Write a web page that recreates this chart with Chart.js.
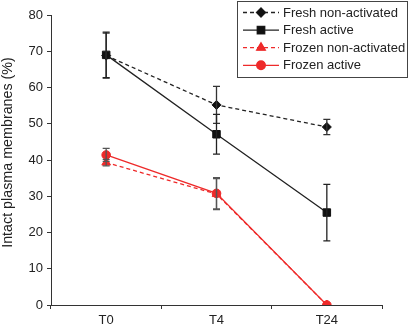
<!DOCTYPE html>
<html>
<head>
<meta charset="utf-8">
<script src="https://cdn.jsdelivr.net/npm/chart.js@4.4.0/dist/chart.umd.min.js"></script>
<style>
  html, body { margin: 0; padding: 0; background: #fff; }
  #wrap { width: 411px; height: 327px; }
</style>
</head>
<body>
<div id="wrap"><canvas id="chart" width="411" height="327"></canvas></div>
<script>
// ------------------ data ------------------
const timePoints = ['T0', 'T4', 'T24'];
const yTicks = [0, 10, 20, 30, 40, 50, 60, 70, 80];

const freshNonActivated = [68.8, 55.2, 49.1];
const freshNonActivatedErr = [6.2, 5.1, 2.1];
const freshActive = [69.0, 47.1, 25.5];
const freshActiveErr = [6.3, 5.5, 7.8];
const frozenNonActivated = [39.3, 30.6, 0];
const frozenNonActivatedErr = [0.9, 4.3, 0];
const frozenActive = [41.4, 30.8, 0];
const frozenActiveErr = [1.8, 4.3, 0];

const FONT = "'Liberation Sans', Arial, Helvetica, sans-serif";

// ------------------ error bars plugin ------------------
const errorBars = {
  id: 'errorBars',
  afterDatasetsDraw(chart) {
    const ctx = chart.ctx;
    const y = chart.scales.y;
    chart.data.datasets.forEach((ds, i) => {
      const meta = chart.getDatasetMeta(i);
      ctx.save();
      ctx.strokeStyle = ds.errColor;
      ctx.lineWidth = 1.3;
      meta.data.forEach((pt, j) => {
        const e = ds.errors[j];
        if (!e) return;
        const top = y.getPixelForValue(ds.data[j] + e);
        const bot = y.getPixelForValue(ds.data[j] - e);
        ctx.beginPath();
        ctx.moveTo(pt.x, top); ctx.lineTo(pt.x, bot);
        ctx.moveTo(pt.x - 3.5, top); ctx.lineTo(pt.x + 3.5, top);
        ctx.moveTo(pt.x - 3.5, bot); ctx.lineTo(pt.x + 3.5, bot);
        ctx.stroke();
      });
      ctx.restore();
    });
  }
};

// ------------------ boxed legend + y title ------------------
const boxLegend = {
  id: 'boxLegend',
  afterDraw(chart) {
    const ctx = chart.ctx;
    ctx.save();
    // y axis title
    ctx.translate(8, 152.5);
    ctx.rotate(-Math.PI / 2);
    ctx.fillStyle = '#222';
    ctx.font = '14.3px ' + FONT;
    ctx.textAlign = 'center';
    ctx.textBaseline = 'middle';
    ctx.fillText('Intact plasma membranes (%)', 0, 0);
    ctx.restore();

    ctx.save();
    ctx.fillStyle = '#fff';
    ctx.fillRect(237.5, 1.5, 170, 76);
    ctx.strokeStyle = '#444';
    ctx.lineWidth = 1;
    ctx.strokeRect(237.5, 1.5, 170, 76);
    ctx.font = '13px ' + FONT;
    ctx.textBaseline = 'middle';
    chart.data.datasets.forEach((ds, i) => {
      const ly = 12.5 + i * 17.6;
      ctx.strokeStyle = ds.borderColor;
      ctx.lineWidth = 1.3;
      ctx.setLineDash(ds.borderDash || []);
      ctx.beginPath();
      ctx.moveTo(243, ly); ctx.lineTo(279, ly);
      ctx.stroke();
      ctx.setLineDash([]);
      ctx.fillStyle = ds.pointBackgroundColor;
      Chart.helpers.drawPoint(ctx, {
        pointStyle: ds.pointStyle, radius: ds.pointRadius, rotation: 0, borderWidth: 1
      }, 261, ly);
      ctx.fill();
      ctx.fillStyle = '#222';
      ctx.fillText(ds.label, 283, ly + 0.5);
    });
    ctx.restore();
  }
};

new Chart(document.getElementById('chart'), {
  type: 'line',
  data: {
    labels: timePoints,
    datasets: [
      {
        label: 'Fresh non-activated', data: freshNonActivated, errors: freshNonActivatedErr,
        borderColor: '#222', pointBackgroundColor: '#111', pointBorderColor: '#111',
        borderDash: [4, 3], pointStyle: 'rectRot', pointRadius: 4.5, errColor: '#333'
      },
      {
        label: 'Fresh active', data: freshActive, errors: freshActiveErr,
        borderColor: '#222', pointBackgroundColor: '#111', pointBorderColor: '#111',
        pointStyle: 'rect', pointRadius: 5.3, errColor: '#222'
      },
      {
        label: 'Frozen non-activated', data: frozenNonActivated, errors: frozenNonActivatedErr,
        borderColor: '#ee2a2a', pointBackgroundColor: '#ee2a2a', pointBorderColor: '#ee2a2a',
        borderDash: [4, 3], pointStyle: 'triangle', pointRadius: 5, errColor: '#555'
      },
      {
        label: 'Frozen active', data: frozenActive, errors: frozenActiveErr,
        borderColor: '#ee2a2a', pointBackgroundColor: '#ee2a2a', pointBorderColor: '#ee2a2a',
        pointStyle: 'circle', pointRadius: 4.3, errColor: '#555'
      }
    ]
  },
  options: {
    responsive: false,
    animation: false,
    layout: { padding: { top: 15, right: 29, left: 0, bottom: 0 } },
    elements: { line: { borderWidth: 1.3, tension: 0 }, point: { borderWidth: 1 } },
    plugins: { legend: { display: false }, tooltip: { enabled: false } },
    scales: {
      x: {
        offset: true,
        grid: { offset: true, drawOnChartArea: false, drawTicks: true, tickLength: 4, color: '#333' },
        border: { display: true, color: '#333', width: 1 },
        ticks: { color: '#222', font: { family: FONT, size: 13 }, padding: 4 },
        afterFit(s) { s.height = 22; }
      },
      y: {
        min: 0, max: 80,
        afterBuildTicks(s) { s.ticks = yTicks.map(v => ({ value: v })); },
        grid: { drawOnChartArea: false, drawTicks: true, tickLength: 4, color: '#333' },
        border: { display: true, color: '#333', width: 1 },
        ticks: { color: '#222', font: { family: FONT, size: 13 }, padding: 4 },
        afterFit(s) { s.width = 51; }
      }
    }
  },
  plugins: [errorBars, boxLegend]
});
</script>
</body>
</html>
